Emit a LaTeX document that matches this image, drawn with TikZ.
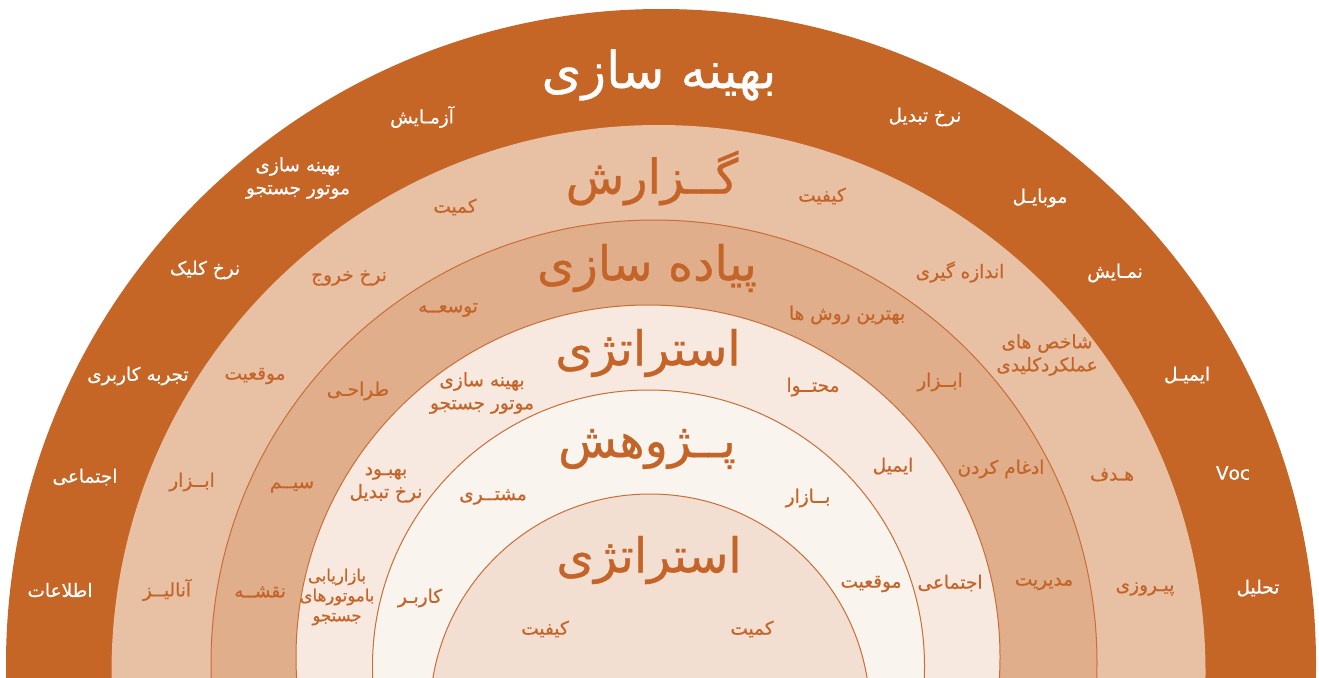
\documentclass[tikz,border=0pt]{standalone}
\usepackage{fontspec}
\newfontfamily\arabicfont[Script=Arabic, FakeBold=0.6]{DejaVu Sans}
\TeXXeTstate=1
\newcommand{\fa}[1]{\beginR #1\endR}
\definecolor{ringA}{RGB}{197,101,38}
\definecolor{ringB}{RGB}{232,193,165}
\definecolor{ringC}{RGB}{224,174,138}
\definecolor{ringD}{RGB}{247,233,223}
\definecolor{ringE}{RGB}{250,244,239}
\definecolor{ringF}{RGB}{242,223,209}
\definecolor{rimline}{RGB}{200,110,55}
\definecolor{ringtext}{RGB}{196,100,40}
\tikzset{
  lbl/.style={font=\arabicfont\fontsize{18.5}{23}\selectfont, text=ringtext, align=center, inner sep=0pt},
  lblw/.style={lbl, text=white},
  ttl/.style={font=\arabicfont\fontsize{48}{54}\selectfont, text=ringtext, inner sep=0pt},
  ttlw/.style={ttl, text=white, font=\arabicfont\fontsize{51}{56}\selectfont},
  rim/.style={draw=rimline, line width=1pt}
}
\begin{document}
\begin{tikzpicture}[x=1pt, y=-1pt]
    \useasboundingbox (0,0) rectangle (1319,677);
    \begin{scope}
    \clip (0,0) rectangle (1319,677);
    \fill[ringA] (661,664) circle[radius=655pt];
    \fill[ringB] (658.5,672) circle[radius=547pt];
    \fill[ringC, rim] (654,663) circle[radius=443pt];
    \fill[ringD, rim] (648,657) circle[radius=352pt];
    \fill[ringE, rim] (648.5,666) circle[radius=276pt];
    \fill[ringF, rim] (650,714) circle[radius=220pt];
    \end{scope}

    \node[ttlw] (title1) at (659,75) {\fa{بهینه سازی}};
    \node[lblw] (a1) at (422,117) {\fa{آزمـایش}};
    \node[lblw] (a2) at (298,178) {\fa{بهینه سازی}\\\fa{موتور جستجو}};
    \node[lblw] (a3) at (205,270) {\fa{نرخ کلیک}};
    \node[lblw] (a4) at (138,376) {\fa{تجربه کاربری}};
    \node[lblw] (a5) at (85,477) {\fa{اجتماعی}};
    \node[lblw] (a6) at (60,590) {\fa{اطلاعات}};
    \node[lblw] (a7) at (925,117) {\fa{نرخ تبدیل}};
    \node[lblw] (a8) at (1040,198) {\fa{موبایـل}};
    \node[lblw] (a9) at (1115,273) {\fa{نمـایش}};
    \node[lblw] (a10) at (1187,375) {\fa{ایمیـل}};
    \node[lblw] (a11) at (1233,473) {Voc};
    \node[lblw] (a12) at (1258,588) {\fa{تحلیل}};

    \node[ttl] (title2) at (652,178) {\fa{گــزارش}};
    \node[lbl] (b1) at (455,207) {\fa{کمیت}};
    \node[lbl] (b2) at (349,278) {\fa{نرخ خروج}};
    \node[lbl] (b3) at (255,376) {\fa{موقعیت}};
    \node[lbl] (b4) at (192,482) {\fa{ابــزار}};
    \node[lbl] (b5) at (167,590) {\fa{آنالیــز}};
    \node[lbl] (b6) at (822,196) {\fa{کیفیت}};
    \node[lbl] (b7) at (960,272) {\fa{اندازه گیری}};
    \node[lbl] (b8) at (1047,355) {\fa{شاخص های}\\\fa{عملکردکلیدی}};
    \node[lbl] (b9) at (1112,475) {\fa{هـدف}};
    \node[lbl] (b10) at (1145,589) {\fa{پیـروزی}};

    \node[ttl] (title3) at (647,268) {\fa{پیاده سازی}};
    \node[lbl] (c1) at (448,310) {\fa{توسعــه}};
    \node[lbl] (c2) at (358,391) {\fa{طراحـی}};
    \node[lbl] (c3) at (292,487) {\fa{سیــم}};
    \node[lbl] (c4) at (260,592) {\fa{نقشــه}};
    \node[lbl] (c5) at (847,315) {\fa{بهترین روش ها}};
    \node[lbl] (c6) at (940,382) {\fa{ابــزار}};
    \node[lbl] (c7) at (1001,469) {\fa{ادغام کردن}};
    \node[lbl] (c8) at (1044,584) {\fa{مدیریت}};

    \node[ttl] (title4) at (648,353) {\fa{استراتژی}};
    \node[lbl] (d1) at (482,393) {\fa{بهینه سازی}\\\fa{موتور جستجو}};
    \node[lbl] (d2) at (386,485) {\fa{بهبـود}\\\fa{نرخ تبدیل}};
    \node[lbl, font=\arabicfont\fontsize{16.5}{20}\selectfont] (d3) at (337,597) {\fa{بازاریابی}\\\fa{باموتورهای}\\\fa{جستجو}};
    \node[lbl] (d4) at (813,387) {\fa{محتــوا}};
    \node[lbl] (d5) at (893,466) {\fa{ایمیل}};
    \node[lbl] (d6) at (950,583) {\fa{اجتماعی}};

    \node[ttl] (title5) at (647,449) {\fa{پــژوهش}};
    \node[lbl] (e1) at (493,497) {\fa{مشتــری}};
    \node[lbl] (e2) at (420,598) {\fa{کاربـر}};
    \node[lbl] (e3) at (808,498) {\fa{بــازار}};
    \node[lbl] (e4) at (871,584) {\fa{موقعیت}};

    \node[ttl] (title6) at (649,560) {\fa{استراتژی}};
    \node[lbl] (f1) at (545,629) {\fa{کیفیت}};
    \node[lbl] (f2) at (752,629) {\fa{کمیت}};
\end{tikzpicture}
\end{document}
